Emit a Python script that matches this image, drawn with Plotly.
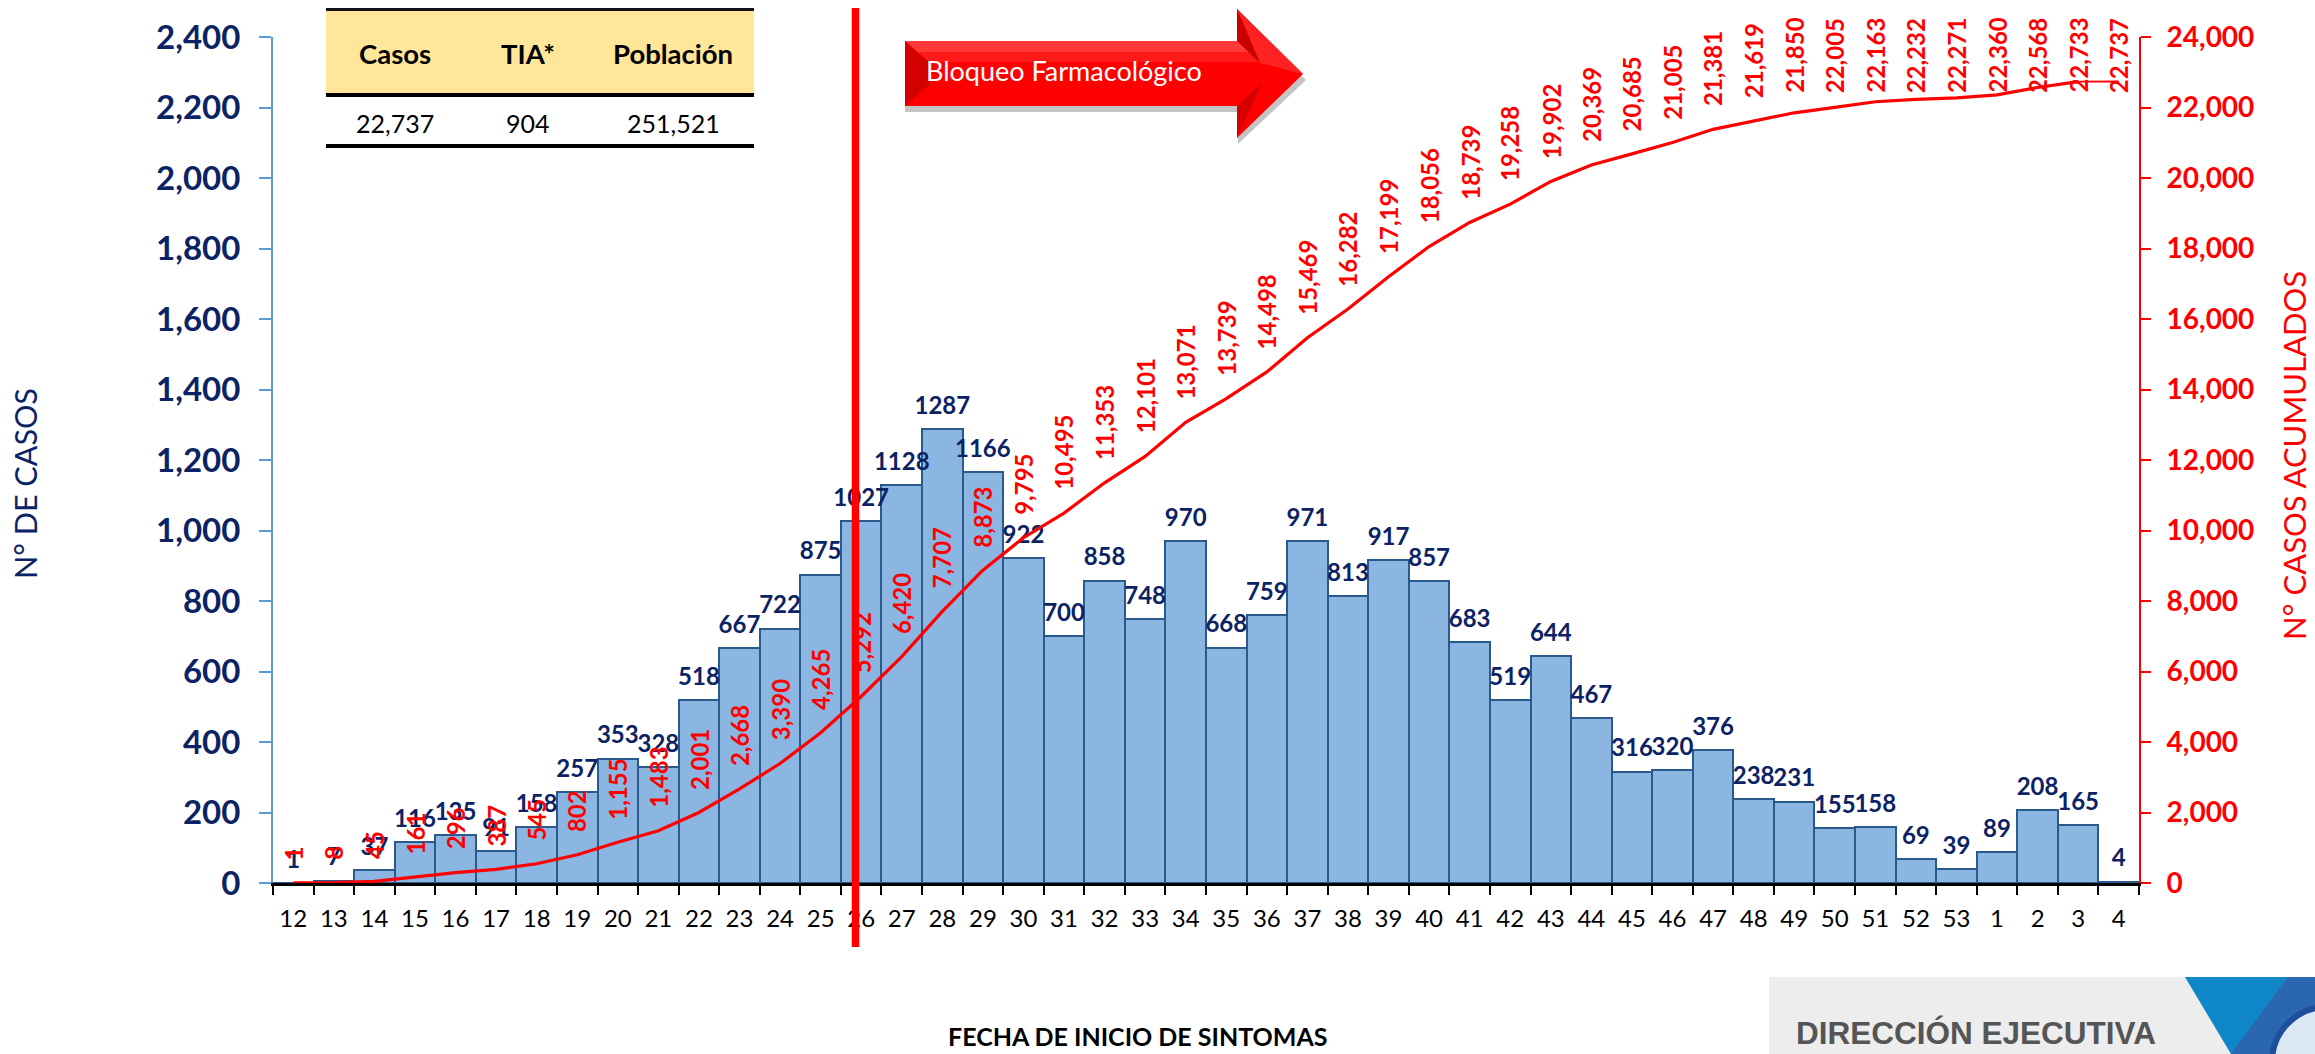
import plotly.graph_objects as go

semanas = [str(s) for s in list(range(12, 54)) + [1, 2, 3, 4]]
casos = [1, 7, 37, 116, 135, 91, 158, 257, 353, 328, 518, 667, 722, 875, 1027, 1128, 1287, 1166, 922, 700,
         858, 748, 970, 668, 759, 971, 813, 917, 857, 683, 519, 644, 467, 316, 320, 376, 238, 231, 155, 158,
         69, 39, 89, 208, 165, 4]
acumulados = [1, 8, 45, 161, 296, 387, 545, 802, 1155, 1483, 2001, 2668, 3390, 4265, 5292, 6420, 7707, 8873,
              9795, 10495, 11353, 12101, 13071, 13739, 14498, 15469, 16282, 17199, 18056, 18739, 19258, 19902,
              20369, 20685, 21005, 21381, 21619, 21850, 22005, 22163, 22232, 22271, 22360, 22568, 22733, 22737]
tabla_cab = ["Casos", "TIA*", "Población"]
tabla_val = ["22,737", "904", "251,521"]

W, H = 2315, 1054
L, R, T, B = 273, 2139, 37, 883
NAVY = "#0B2265"
RED = "#FF0000"
FONT = "Lato"


def px(x):
    return (x - L) / (R - L)


def py(y):
    return (B - y) / (B - T)


def poly(points, fill, layer="above"):
    path = "M" + " L".join(f"{px(a):.5f},{py(b):.5f}" for a, b in points) + " Z"
    return dict(type="path", xref="paper", yref="paper", path=path, fillcolor=fill,
                line=dict(width=0), layer=layer)


def hline(x0, x1, y, w, color="#000000"):
    return dict(type="line", xref="paper", yref="paper", x0=px(x0), x1=px(x1), y0=py(y), y1=py(y),
                line=dict(color=color, width=w), layer="above")


def label(x, y, text, size, color="#000000", bold=False, family=FONT, anchor="center", angle=0):
    return dict(xref="paper", yref="paper", x=px(x), y=py(y), text=f"<b>{text}</b>" if bold else text,
                showarrow=False, xanchor=anchor, yanchor="middle", textangle=angle,
                font=dict(family=family, size=size, color=color))


fig = go.Figure()
fig.add_bar(x=semanas, y=casos, width=1, marker=dict(color="#8BB6E2", line=dict(color="#2A5A8C", width=2)),
            yaxis="y", hoverinfo="skip")
fig.add_scatter(x=semanas, y=casos, mode="markers+text", text=[str(c) for c in casos],
                textposition="top center", cliponaxis=False,
                marker=dict(size=13, opacity=0), yaxis="y", hoverinfo="skip",
                textfont=dict(family=FONT, size=24, color=NAVY, weight="bold"))
fig.add_scatter(x=semanas[:-1], y=acumulados[:-1], mode="lines", line=dict(color=RED, width=3.2), yaxis="y2",
                hoverinfo="skip")
fig.add_scatter(x=semanas[-2:], y=acumulados[-2:], mode="lines", line=dict(color=RED, width=1.8), yaxis="y2",
                hoverinfo="skip")

annotations = []
for i, v in enumerate(acumulados):
    annotations.append(dict(x=i, y=min(v + 620, 22384), xref="x", yref="y2", text=f"<b>{v:,}</b>",
                            showarrow=False, textangle=-90, xanchor="center", yanchor="bottom",
                            borderpad=0, font=dict(family=FONT, size=24, color=RED)))

# table
for cx, c, v in zip((395, 528, 673), tabla_cab, tabla_val):
    annotations.append(label(cx, 53, c, 27.5, bold=True))
    annotations.append(label(cx, 123, v, 25))

annotations += [
    label(924, 70, "Bloqueo Farmacológico", 27, "#FFFFFF", anchor="left"),
    label(25, 484, "N° DE CASOS", 30.5, NAVY, angle=-90),
    label(2294, 456, "N° CASOS ACUMULADOS", 31, RED, angle=-90),
    label(1137, 1036, "FECHA DE INICIO DE SINTOMAS", 25, bold=True),
    label(1976, 1033, "DIRECCIÓN EJECUTIVA", 31.5, "#555555", bold=True, family="Liberation Sans"),
]

shapes = [
    # table
    poly([(326, 10), (754, 10), (754, 94), (326, 94)], "#FFE699"),
    hline(326, 754, 9.5, 3, "#111111"),
    hline(326, 754, 95, 4),
    hline(326, 754, 146, 4),
    # arrow
    poly([(905, 47), (1237, 47), (1237, 15), (1306, 80), (1238, 144), (1238, 112), (905, 112)], "#C4C4C4"),
    poly([(905, 41), (1237, 41), (1237, 9), (1303, 74), (1237, 138), (1237, 106), (905, 106)], RED),
    poly([(905, 41), (1237, 41), (1260, 52), (905, 52)], "rgba(255,255,255,0.22)"),
    poly([(905, 52), (1262, 52), (1270, 62), (905, 62)], "rgba(255,255,255,0.10)"),
    poly([(905, 41), (930, 63), (930, 84), (905, 106)], "#D40000"),
    poly([(1237, 9), (1303, 74), (1260, 63)], "#FF2222"),
    poly([(1237, 9), (1260, 63), (1237, 41)], "#C80000"),
    poly([(1237, 138), (1262, 83), (1237, 106)], "#D60000"),
    # logo
    poly([(1769, 977), (2190, 977), (2235, 1054), (1769, 1054)], "#EDEDED"),
    poly([(2185, 977), (2315, 977), (2315, 1054), (2231, 1054)], "#0E86C8"),
    poly([(2288, 977), (2315, 977), (2315, 1054), (2231, 1054)], "#2B66B0"),
    dict(type="circle", xref="paper", yref="paper", x0=px(2272), x1=px(2382), y0=py(1007), y1=py(1117),
         fillcolor="#DCE8F5", line=dict(color="#1D4F9C", width=6), layer="above"),
    # start of pharmacological blockade
    dict(type="line", xref="paper", yref="paper", x0=px(855.5), x1=px(855.5), y0=py(8), y1=py(947),
         line=dict(color=RED, width=7.5), layer="above"),
]

fig.update_layout(
    width=W, height=H, autosize=False, showlegend=False, bargap=0,
    plot_bgcolor="#FFFFFF", paper_bgcolor="#FFFFFF",
    margin=dict(l=L, r=W - R, t=T, b=H - B, pad=0),
    font=dict(family=FONT),
    xaxis=dict(type="category", categoryorder="array", categoryarray=semanas, tickmode="array",
               tickvals=semanas, ticktext=semanas, tickson="boundaries", ticks="outside", ticklen=9, tickwidth=2,
               tickcolor="#000000", showline=True, linecolor="#000000", linewidth=3, showgrid=False,
               tickangle=0, tickfont=dict(family=FONT, size=24, color="#000000"), ticklabelstandoff=12,
               zeroline=False, range=[-0.5, len(semanas) - 0.5], autorange=False),
    yaxis=dict(range=[0, 2400], dtick=200, tickformat=",d", ticks="outside", ticklen=12, tickwidth=2,
               tickcolor="#5B9BD5", showline=True, linecolor="#5B9BD5", linewidth=2, showgrid=False,
               zeroline=False, tickfont=dict(family=FONT, size=33, color=NAVY, weight="bold"),
               ticklabelstandoff=12),
    yaxis2=dict(range=[0, 24000], dtick=2000, tickformat=",d", overlaying="y", side="right", ticks="outside",
                ticklen=10, tickwidth=2, tickcolor=RED, showline=True, linecolor=RED, linewidth=2,
                showgrid=False, zeroline=False, tickfont=dict(family=FONT, size=28, color=RED, weight="bold"),
                ticklabelstandoff=10),
    annotations=annotations,
    shapes=shapes,
)

fig.write_html("out.html", config={"displayModeBar": False},
               post_script="document.body.style.margin='0';document.body.style.overflow='hidden';")
